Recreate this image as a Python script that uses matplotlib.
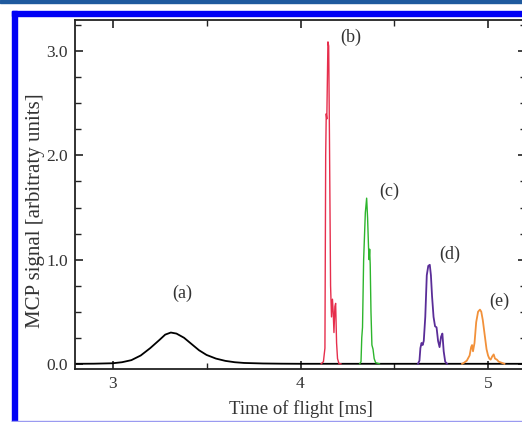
import matplotlib
matplotlib.use("Agg")
import matplotlib.pyplot as plt
from matplotlib.patches import Rectangle
from matplotlib.ticker import MultipleLocator

plt.rcParams['font.family'] = ['Liberation Serif', 'DejaVu Serif']

# (a) broad peak, black
t_a = [2.80, 2.90, 3.00, 3.05, 3.10, 3.15, 3.20, 3.25, 3.28, 3.31, 3.34, 3.38,
       3.42, 3.46, 3.50, 3.55, 3.60, 3.65, 3.70, 3.80, 3.90, 4.00, 5.20]
s_a = [0.0, 0.001, 0.005, 0.015, 0.035, 0.08, 0.15, 0.23, 0.28, 0.30, 0.29, 0.25,
       0.19, 0.13, 0.085, 0.05, 0.028, 0.015, 0.008, 0.003, 0.001, 0.0, 0.0]

# (b) red
t_b = [4.110, 4.122, 4.125, 4.130, 4.134, 4.137, 4.140, 4.146, 4.150, 4.154, 4.160,
       4.165, 4.170, 4.174, 4.178, 4.183, 4.187, 4.192, 4.197, 4.205, 4.215]
s_b = [0.0, 0.02, 0.07, 0.15, 2.0, 2.40, 2.35, 3.09, 3.05, 2.2, 0.75,
       0.45, 0.62, 0.50, 0.30, 0.55, 0.58, 0.20, 0.05, 0.0, 0.0]

# (c) green
t_c = [4.315, 4.322, 4.326, 4.330, 4.336, 4.345, 4.352, 4.357, 4.362, 4.365,
       4.368, 4.371, 4.375, 4.380, 4.386, 4.392, 4.400, 4.420]
s_c = [0.0, 0.02, 0.25, 0.35, 1.0, 1.45, 1.59, 1.40, 1.12, 1.00,
       1.10, 0.95, 0.50, 0.18, 0.14, 0.05, 0.01, 0.0]

# (d) purple
t_d = [4.625, 4.633, 4.638, 4.644, 4.650, 4.656, 4.664, 4.672, 4.680, 4.688, 4.694,
       4.700, 4.708, 4.716, 4.724, 4.732, 4.740, 4.748, 4.755, 4.762, 4.770, 4.780]
s_d = [0.0, 0.03, 0.15, 0.20, 0.18, 0.22, 0.45, 0.85, 0.94, 0.95, 0.85,
       0.65, 0.45, 0.36, 0.35, 0.22, 0.16, 0.26, 0.29, 0.12, 0.02, 0.0]

# (e) orange
t_e = [4.860, 4.870, 4.885, 4.900, 4.908, 4.913, 4.918, 4.926, 4.935, 4.945, 4.955,
       4.962, 4.970, 4.980, 4.990, 4.998, 5.005, 5.012, 5.020, 5.028, 5.035, 5.045,
       5.055, 5.070, 5.085]
s_e = [0.0, 0.01, 0.03, 0.08, 0.16, 0.18, 0.12, 0.20, 0.40, 0.50, 0.52,
       0.50, 0.42, 0.28, 0.14, 0.08, 0.05, 0.04, 0.07, 0.09, 0.05, 0.04,
       0.02, 0.01, 0.0]

labels = ['(a)', '(b)', '(c)', '(d)', '(e)']
label_pos = [(3.372, 0.68), (4.266, 3.13), (4.473, 1.655), (4.796, 1.047), (5.059, 0.598)]

fig = plt.figure(figsize=(5.22, 4.22), dpi=100)

# page frame around the figure
fig.patches.append(Rectangle((0, 1 - 3 / 422), 1, 3 / 422, transform=fig.transFigure,
                             color='#1f5a9e', zorder=0))
fig.patches.append(Rectangle((12 / 522, 0), 5 / 522, 1 - 11 / 422, transform=fig.transFigure,
                             color='#0000f5', zorder=0))
fig.patches.append(Rectangle((12 / 522, 1 - 16 / 422), 1, 5 / 422, transform=fig.transFigure,
                             color='#0000f5', zorder=0))
fig.patches.append(Rectangle((12 / 522, 0), 1, 1.5 / 422, transform=fig.transFigure,
                             color='#9a9af0', zorder=0))

ax = fig.add_axes([75 / 522, 1 - 369 / 422, 451 / 522, 349 / 422])
ax.plot(t_a, s_a, color='black', lw=1.3)
ax.plot(t_b, s_b, color='#e62e4c', lw=1.0)
ax.plot(t_c, s_c, color='#2db52d', lw=1.0)
ax.plot(t_d, s_d, color='#5a2d98', lw=1.3)
ax.plot(t_e, s_e, color='#f2913a', lw=1.3)

for lab, (x, y) in zip(labels, label_pos):
    ax.text(x, y, lab, fontsize=13, color='#333333', ha='center', va='center')

ax.set_xlim(2.8, 5.2)
ax.set_ylim(-0.05, 3.30)
ax.xaxis.set_minor_locator(MultipleLocator(0.5))
ax.yaxis.set_minor_locator(MultipleLocator(0.25))
ax.set_yticks([0, 1, 2, 3])
ax.set_yticklabels(['0.0', '1.0', '2.0', '3.0'])
ax.set_xticks([3, 4, 5])
ax.set_xticklabels(['3', '4', '5'])
ax.tick_params(which='both', direction='in', top=True, right=True, color='#222222',
               labelsize=12.5, labelcolor='#333333', pad=5)
ax.tick_params(which='major', length=6, width=1.2)
ax.tick_params(which='minor', length=4, width=1.0)
for sp in ax.spines.values():
    sp.set_linewidth(1.3)
    sp.set_color('#222222')

ax.set_xlabel('Time of flight [ms]', fontsize=13.5, color='#333333', labelpad=6)
ax.set_ylabel('MCP signal [arbitraty units]', fontsize=15, color='#333333')
ax.yaxis.set_label_coords(-0.066, 0.453)

fig.savefig('out.png', dpi=100)
